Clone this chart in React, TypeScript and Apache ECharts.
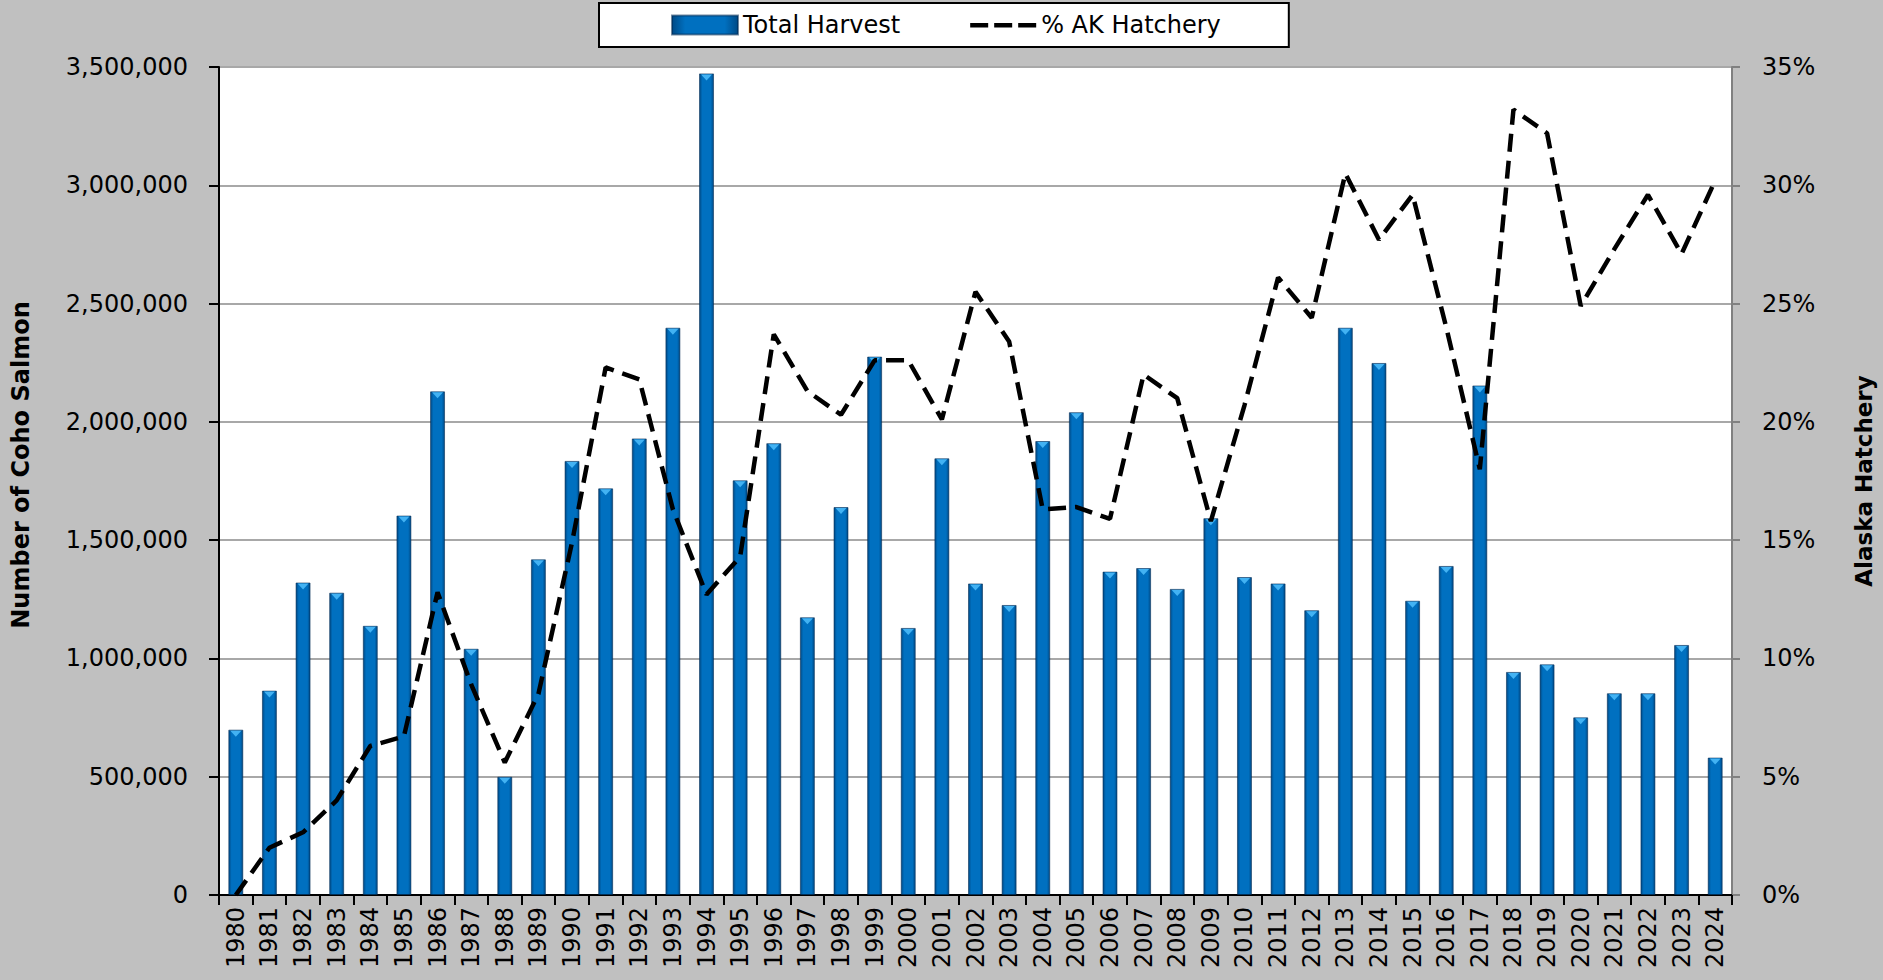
import React, { useEffect, useRef } from "react";
import * as echarts from "echarts";

const years = [
  "1980", "1981", "1982", "1983", "1984", "1985", "1986", "1987", "1988", "1989",
  "1990", "1991", "1992", "1993", "1994", "1995", "1996", "1997", "1998", "1999",
  "2000", "2001", "2002", "2003", "2004", "2005", "2006", "2007", "2008", "2009",
  "2010", "2011", "2012", "2013", "2014", "2015", "2016", "2017", "2018", "2019",
  "2020", "2021", "2022", "2023", "2024",
];

const totalHarvest = [
  699000, 864000, 1321000, 1278000, 1138000, 1604000, 2129000, 1041000, 500000, 1419000,
  1835000, 1719000, 1930000, 2398000, 3473000, 1753000, 1910000, 1174000, 1640000, 2276000,
  1129000, 1846000, 1317000, 1226000, 1919000, 2041000, 1367000, 1382000, 1294000, 1593000,
  1344000, 1317000, 1204000, 2398000, 2249000, 1244000, 1391000, 2154000, 943000, 975000,
  751000, 853000, 853000, 1057000, 581000,
];

const akHatcheryPct = [
  0.0, 2.0, 2.65, 4.0, 6.3, 6.7, 12.8, 8.9, 5.6, 8.5,
  14.9, 22.3, 21.8, 16.3, 12.7, 14.3, 23.7, 21.3, 20.3, 22.6,
  22.6, 20.1, 25.5, 23.4, 16.3, 16.4, 15.9, 22.0, 21.0, 15.8,
  20.7, 26.1, 24.4, 30.5, 27.7, 29.6, 24.0, 18.0, 33.2, 32.2,
  24.9, 27.3, 29.6, 27.1, 30.2,
];

const leftTicks = { min: 0, max: 3500000, interval: 500000 };
const rightTicks = { min: 0, max: 35, interval: 5 };

const FONT = "DejaVu Sans";

const DASH_ICON =
  "path://M0,0L0.01,0L0.01,0.01Z M0,19L0.01,19L0.01,18.99Z M0,7.5h18v4.5h-18Z M24,7.5h18v4.5h-18Z M48,7.5h18v4.5h-18Z";

export default function App() {
  const ref = useRef<HTMLDivElement>(null);

  useEffect(() => {
    if (!ref.current) return;
    const chart = echarts.init(ref.current, null, { renderer: "svg" });
    const barGradient = {
      type: "linear",
      x: 0,
      y: 0,
      x2: 1,
      y2: 0,
      colorStops: [
        { offset: 0, color: "#004a86" },
        { offset: 0.2, color: "#0070c0" },
        { offset: 0.8, color: "#0070c0" },
        { offset: 1, color: "#004a86" },
      ],
    };
    chart.setOption({
      animation: false,
      backgroundColor: "#c0c0c0",
      textStyle: { fontFamily: FONT },
      legend: {
        left: 599,
        top: 3,
        padding: [10, 68, 10, 72],
        backgroundColor: "#ffffff",
        borderColor: "#000000",
        borderWidth: 2,
        borderRadius: 0,
        itemWidth: 66,
        itemHeight: 19,
        itemGap: 70,
        textStyle: { fontSize: 24, color: "#000", fontFamily: FONT },
        data: [
          { name: "Total Harvest", icon: "rect" },
          {
            name: "% AK Hatchery",
            icon: DASH_ICON,
            itemStyle: { color: "#000", borderWidth: 0 },
          },
        ],
      },
      grid: {
        left: 219,
        right: 148,
        top: 67,
        bottom: 85,
        show: true,
        backgroundColor: "#ffffff",
        borderWidth: 0,
      },
      xAxis: [
        {
          type: "category",
          data: years,
          axisLine: { lineStyle: { color: "#000", width: 2 } },
          axisTick: { show: true, length: 10, lineStyle: { color: "#000", width: 2 } },
          axisLabel: {
            rotate: 90,
            interval: 0,
            fontSize: 24,
            color: "#000",
            margin: 12,
            fontFamily: FONT,
          },
        },
        {
          type: "category",
          data: years,
          position: "top",
          axisLine: { lineStyle: { color: "#000", width: 2 } },
          axisTick: { show: false },
          axisLabel: { show: false },
        },
      ],
      yAxis: [
        {
          type: "value",
          min: leftTicks.min,
          max: leftTicks.max,
          interval: leftTicks.interval,
          axisLine: { show: true, lineStyle: { color: "#000", width: 2 } },
          axisTick: { show: true, length: 10, lineStyle: { color: "#000", width: 2 } },
          axisLabel: {
            fontSize: 24,
            color: "#000",
            margin: 31,
            fontFamily: FONT,
            formatter: (v: number) => v.toLocaleString("en-US"),
          },
          splitLine: { lineStyle: { color: "#a8a8a8", width: 2 } },
          name: "Number of Coho Salmon",
          nameLocation: "middle",
          nameRotate: 90,
          nameGap: 186,
          nameTextStyle: {
            fontSize: 24,
            fontWeight: "bold",
            color: "#000",
            fontFamily: FONT,
            padding: [0, 0, 0, 32],
          },
        },
        {
          type: "value",
          position: "right",
          min: rightTicks.min,
          max: rightTicks.max,
          interval: rightTicks.interval,
          axisLine: { show: true, lineStyle: { color: "#808080", width: 2 } },
          axisTick: { show: true, length: 8, lineStyle: { color: "#808080", width: 2 } },
          axisLabel: {
            fontSize: 24,
            color: "#000",
            margin: 30,
            fontFamily: FONT,
            formatter: "{value}%",
          },
          splitLine: { show: false },
          name: "Alaska Hatchery",
          nameLocation: "middle",
          nameRotate: 90,
          nameGap: 120,
          nameTextStyle: { fontSize: 23, fontWeight: "bold", color: "#000", fontFamily: FONT },
        },
      ],
      series: [
        {
          name: "Total Harvest",
          type: "bar",
          xAxisIndex: 0,
          yAxisIndex: 0,
          data: totalHarvest,
          barWidth: 15,
          itemStyle: {
            color: barGradient,
            borderColor: "rgba(0,40,80,0.55)",
            borderWidth: 1,
          },
        },
        {
          name: "bevel",
          type: "scatter",
          xAxisIndex: 0,
          yAxisIndex: 0,
          data: totalHarvest,
          symbol: "triangle",
          symbolRotate: 180,
          symbolSize: [11, 6],
          symbolOffset: [0, 4],
          itemStyle: { color: "#52c3ff" },
          silent: true,
          z: 3,
        },
        {
          name: "% AK Hatchery",
          type: "line",
          xAxisIndex: 0,
          yAxisIndex: 1,
          data: akHatcheryPct,
          symbol: "none",
          itemStyle: { color: "#000" },
          lineStyle: { color: "#000", width: 4.5, type: [18, 9] },
          z: 5,
        },
      ],
    });
    return () => chart.dispose();
  }, []);

  return (
    <div
      ref={ref}
      style={{ position: "absolute", left: 0, top: 0, width: 1883, height: 980 }}
    />
  );
}
